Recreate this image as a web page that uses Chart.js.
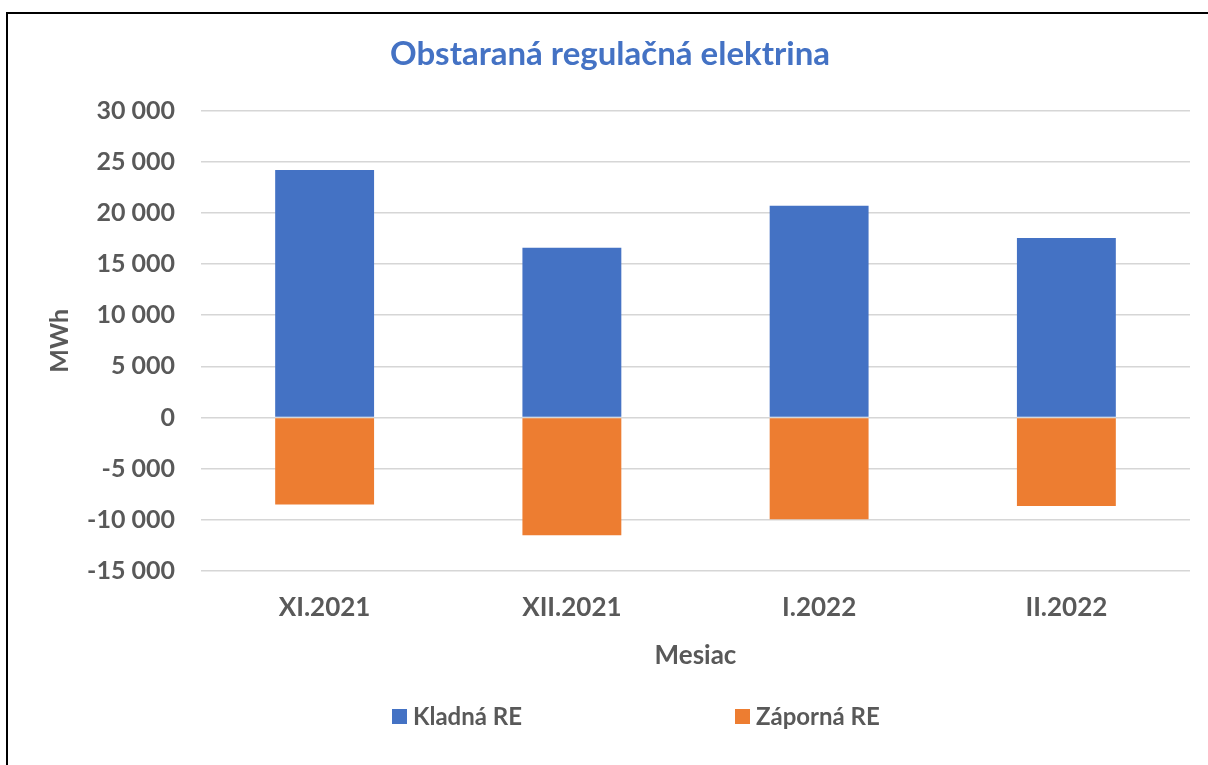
<!DOCTYPE html>
<html>
<head>
<meta charset="utf-8">
<script src="https://cdn.jsdelivr.net/npm/chart.js@4"></script>
<style>
  body { margin: 0; background: #fff; overflow: hidden; }
  #wrap { position: relative; width: 1208px; height: 765px; }
  #ramik { position: absolute; left: 6px; top: 12px; width: 1220px; height: 800px; border: 2px solid #000; pointer-events: none; }
</style>
</head>
<body>
<div id="wrap">
  <canvas id="graf" width="1208" height="765"></canvas>
  <div id="ramik"></div>
</div>
<script>
// Udaje
let mesiace = ["XI.2021", "XII.2021", "I.2022", "II.2022"];
let kladna = [24200, 16600, 20700, 17550];
let zaporna = [-8500, -11500, -9950, -8650];
let osY = { min: -15000, max: 30000, krok: 5000 };

let pismo = "Lato, 'Open Sans', sans-serif";
let siva = "#595959";

// Format cisla s medzerou ako oddelovacom tisicov
function formatuj(v) {
    let s = Math.abs(v).toString().replace(/\B(?=(\d{3})+(?!\d))/g, " ");
    return (v < 0 ? "-" : "") + s;
}

// Vlastna legenda dole
let legenda = {
    id: "legenda",
    afterDraw(chart) {
        let ctx = chart.ctx;
        let xs = [392, 735];
        ctx.save();
        ctx.font = "bold 24px " + pismo;
        ctx.textBaseline = "middle";
        chart.data.datasets.forEach(function (ds, i) {
            ctx.fillStyle = ds.backgroundColor;
            ctx.fillRect(xs[i], 709, 15, 15);
            ctx.fillStyle = siva;
            ctx.fillText(ds.label, xs[i] + 21, 717);
        });
        ctx.restore();
    }
};

let ctx = document.getElementById("graf").getContext("2d");

let graf = new Chart(ctx, {
    type: "bar",
    data: {
        labels: mesiace,
        datasets: [{
            label: "Kladná RE",
            data: kladna,
            backgroundColor: "#4472C4",
            barPercentage: 0.4,
            categoryPercentage: 1
        }, {
            label: "Záporná RE",
            data: zaporna,
            backgroundColor: "#ED7D31",
            barPercentage: 0.4,
            categoryPercentage: 1
        }]
    },
    options: {
        responsive: false,
        animation: false,
        layout: { padding: { left: 30, right: 18, top: 0, bottom: 69 } },
        plugins: {
            legend: { display: false },
            tooltip: { enabled: false },
            title: {
                display: true,
                text: "Obstaraná regulačná elektrina",
                color: "#4472C4",
                font: { family: pismo, size: 33, weight: "bold" },
                padding: { top: 35, bottom: 36 }
            }
        },
        scales: {
            x: {
                stacked: true,
                grid: { display: false, drawTicks: false },
                border: { display: false },
                ticks: { color: siva, padding: 21, font: { family: pismo, size: 26, weight: "bold" } },
                title: {
                    display: true,
                    text: "Mesiac",
                    color: siva,
                    font: { family: pismo, size: 26, weight: "bold" },
                    padding: { top: 0, bottom: 25 }
                },
                afterFit(scale) { scale.height = 125; }
            },
            y: {
                stacked: true,
                min: osY.min,
                max: osY.max,
                grid: { color: "#d6d6d6", lineWidth: 1.5, drawTicks: false },
                border: { display: false },
                ticks: {
                    stepSize: osY.krok,
                    color: siva,
                    padding: 26,
                    font: { family: pismo, size: 25, weight: "bold" },
                    callback: function (v) { return formatuj(v); }
                },
                title: {
                    display: true,
                    text: "MWh",
                    color: siva,
                    font: { family: pismo, size: 25, weight: "bold" },
                    padding: { top: 15, bottom: 0 }
                },
                afterFit(scale) { scale.width = 171; }
            }
        }
    },
    plugins: [legenda]
});
</script>
</body>
</html>
